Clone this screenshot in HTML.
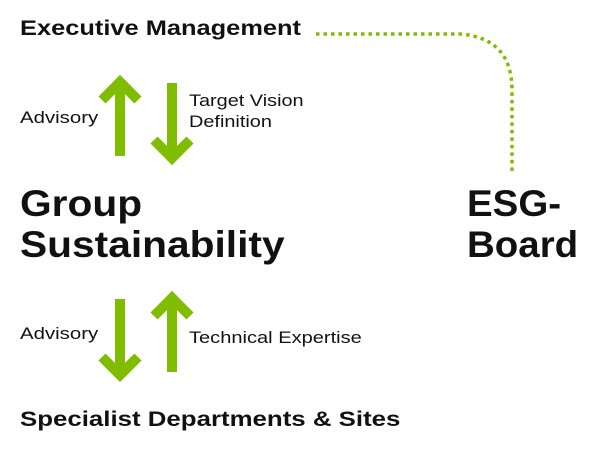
<!DOCTYPE html>
<html><head><style>
body{margin:0;width:600px;height:450px;background:#fff;position:relative;overflow:hidden;font-family:"Liberation Sans",sans-serif;color:#111}
.t{position:absolute;white-space:nowrap;transform-origin:0 0}
.b{font-weight:bold}
</style></head><body>
<svg width="600" height="450" style="position:absolute;left:0;top:0">
<g stroke="#80bc00" stroke-width="10" fill="none" stroke-linejoin="miter">
<line x1="120" y1="84" x2="120" y2="156"/>
<polyline points="102,100 120,82 138,100"/>
<line x1="172" y1="83" x2="172" y2="153"/>
<polyline points="154,140 172,158 190,140"/>
<line x1="120" y1="299" x2="120" y2="370"/>
<polyline points="102,357 120,375 138,357"/>
<line x1="172" y1="300" x2="172" y2="372"/>
<polyline points="154,316 172,298 190,316"/>
</g>
<path d="M316,34 L460,34 Q512,38 512,90 L512,172" stroke="#80bc00" stroke-width="3.5" fill="none" stroke-dasharray="3.5,4"/>
</svg>
<div class="t b" style="left:20px;top:17px;font-size:21px;transform:scaleX(1.21)">Executive Management</div>
<div class="t" style="left:20px;top:108px;font-size:17px;transform:scaleX(1.2)">Advisory</div>
<div class="t" style="left:189px;top:90px;font-size:17px;line-height:21px;transform:scaleX(1.17)">Target Vision<br>Definition</div>
<div class="t b" style="left:20px;top:183px;font-size:37px;line-height:41px;transform:scaleX(1.1)">Group<br>Sustainability</div>
<div class="t b" style="left:467px;top:183px;font-size:37px;line-height:41px;transform:scaleX(1.04)">ESG-<br>Board</div>
<div class="t" style="left:20px;top:324px;font-size:17px;transform:scaleX(1.2)">Advisory</div>
<div class="t" style="left:189px;top:328px;font-size:17px;transform:scaleX(1.18)">Technical Expertise</div>
<div class="t b" style="left:20px;top:408px;font-size:21px;transform:scaleX(1.23)">Specialist Departments &amp; Sites</div>
</body></html>
